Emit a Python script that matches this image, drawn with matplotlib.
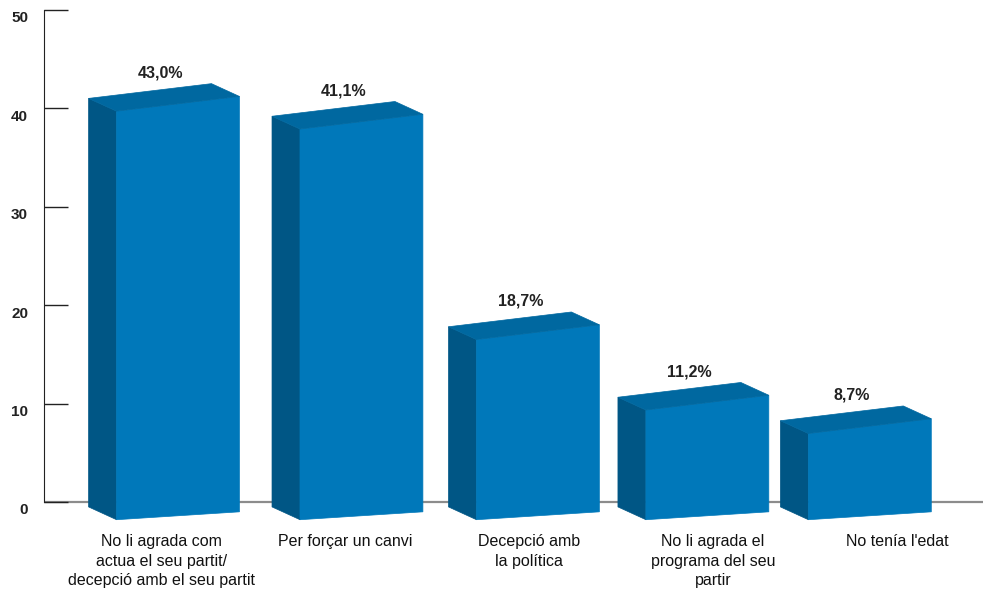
import numpy as np
import matplotlib.pyplot as plt
from matplotlib.patches import Polygon
from matplotlib.transforms import ScaledTranslation

plt.rcParams['font.family'] = ['Liberation Sans', 'DejaVu Sans']

# -------------------------------
# Data
# -------------------------------
categories = [
    "No li agrada com\nactua el seu partit/\ndecepció amb el seu partit",
    "Per forçar un canvi",
    "Decepció amb\nla política",
    "No li agrada el\nprograma del seu\npartir",
    "No tenía l'edat",
]
values = [43.0, 41.1, 18.7, 11.2, 8.7]
value_labels = ["43,0%", "41,1%", "18,7%", "11,2%", "8,7%"]
yticks = [0, 10, 20, 30, 40, 50]

# colours of the 3d boxes
front_col = "#0078BA"
side_col = "#005685"
top_col = "#0068A0"

# box geometry (x in category units, y in data units)
half_w = 0.41
depth_x = 0.152
depth_y = 1.3
tilt = 1.5
bot_tilt = 0.8
base = -1.8
view_k, view_off = 0.955, -0.6   # perspective squash of the front face
persp_x = 0.019                  # bars drift together towards the right

# -------------------------------
# Figure
# -------------------------------
fig = plt.figure(figsize=(9.83, 5.94), dpi=100)
ax = fig.add_axes([0.0448, 0.1052, 0.9552, 0.8813])
ax.set_xlim(-0.636, 4.467)
ax.set_ylim(-3.0, 50.2)

n = len(values)
tick_x = np.arange(n)
bar_x = 0.016 + 1.016 * tick_x - persp_x * tick_x ** 2

ax.axhline(0, color="#8c8c8c", lw=1.6, zorder=1)

for c, v, lab in zip(bar_x, values, value_labels):
    fl = c - half_w + depth_x
    fr = c + half_w
    top_l = view_k * v + view_off - tilt / 2
    top_r = top_l + tilt
    bot_l = base
    bot_r = base + bot_tilt
    front = [(fl, bot_l), (fr, bot_r), (fr, top_r), (fl, top_l)]
    side = [(fl - depth_x, bot_l + depth_y), (fl, bot_l), (fl, top_l),
            (fl - depth_x, top_l + depth_y)]
    top = [(fl, top_l), (fr, top_r), (fr - depth_x, top_r + depth_y),
           (fl - depth_x, top_l + depth_y)]
    ax.add_patch(Polygon(side, closed=True, fc=side_col, ec=side_col, lw=0.5, zorder=3))
    ax.add_patch(Polygon(front, closed=True, fc=front_col, ec=front_col, lw=0.5, zorder=3))
    ax.add_patch(Polygon(top, closed=True, fc=top_col, ec=top_col, lw=0.5, zorder=3))
    ax.text(c - 0.02, top_r + depth_y + 1.1, lab, ha="center", va="center",
            fontsize=11.5, fontweight="bold", color="#222222")

for x, cat in zip(tick_x, categories):
    ax.text(x, -3.3, cat, ha="center", va="top", fontsize=11.5,
            linespacing=1.35, color="#111111", clip_on=False)

# axes styling
for s in ["top", "right", "bottom"]:
    ax.spines[s].set_visible(False)
ax.spines["left"].set_bounds(0, 50)
ax.spines["left"].set_color("#222222")
ax.set_xticks([])
ax.set_yticks(yticks)
ax.set_yticklabels([str(t) for t in yticks], fontsize=11,
                   fontweight="bold", color="#222222")
ax.tick_params(axis="y", direction="in", length=17.3, width=1,
               color="#222222", pad=11.5)
for lbl in ax.get_yticklabels():
    lbl.set_transform(lbl.get_transform()
                      + ScaledTranslation(0, -7 / 100, fig.dpi_scale_trans))

fig.savefig("out.png", dpi=100)
